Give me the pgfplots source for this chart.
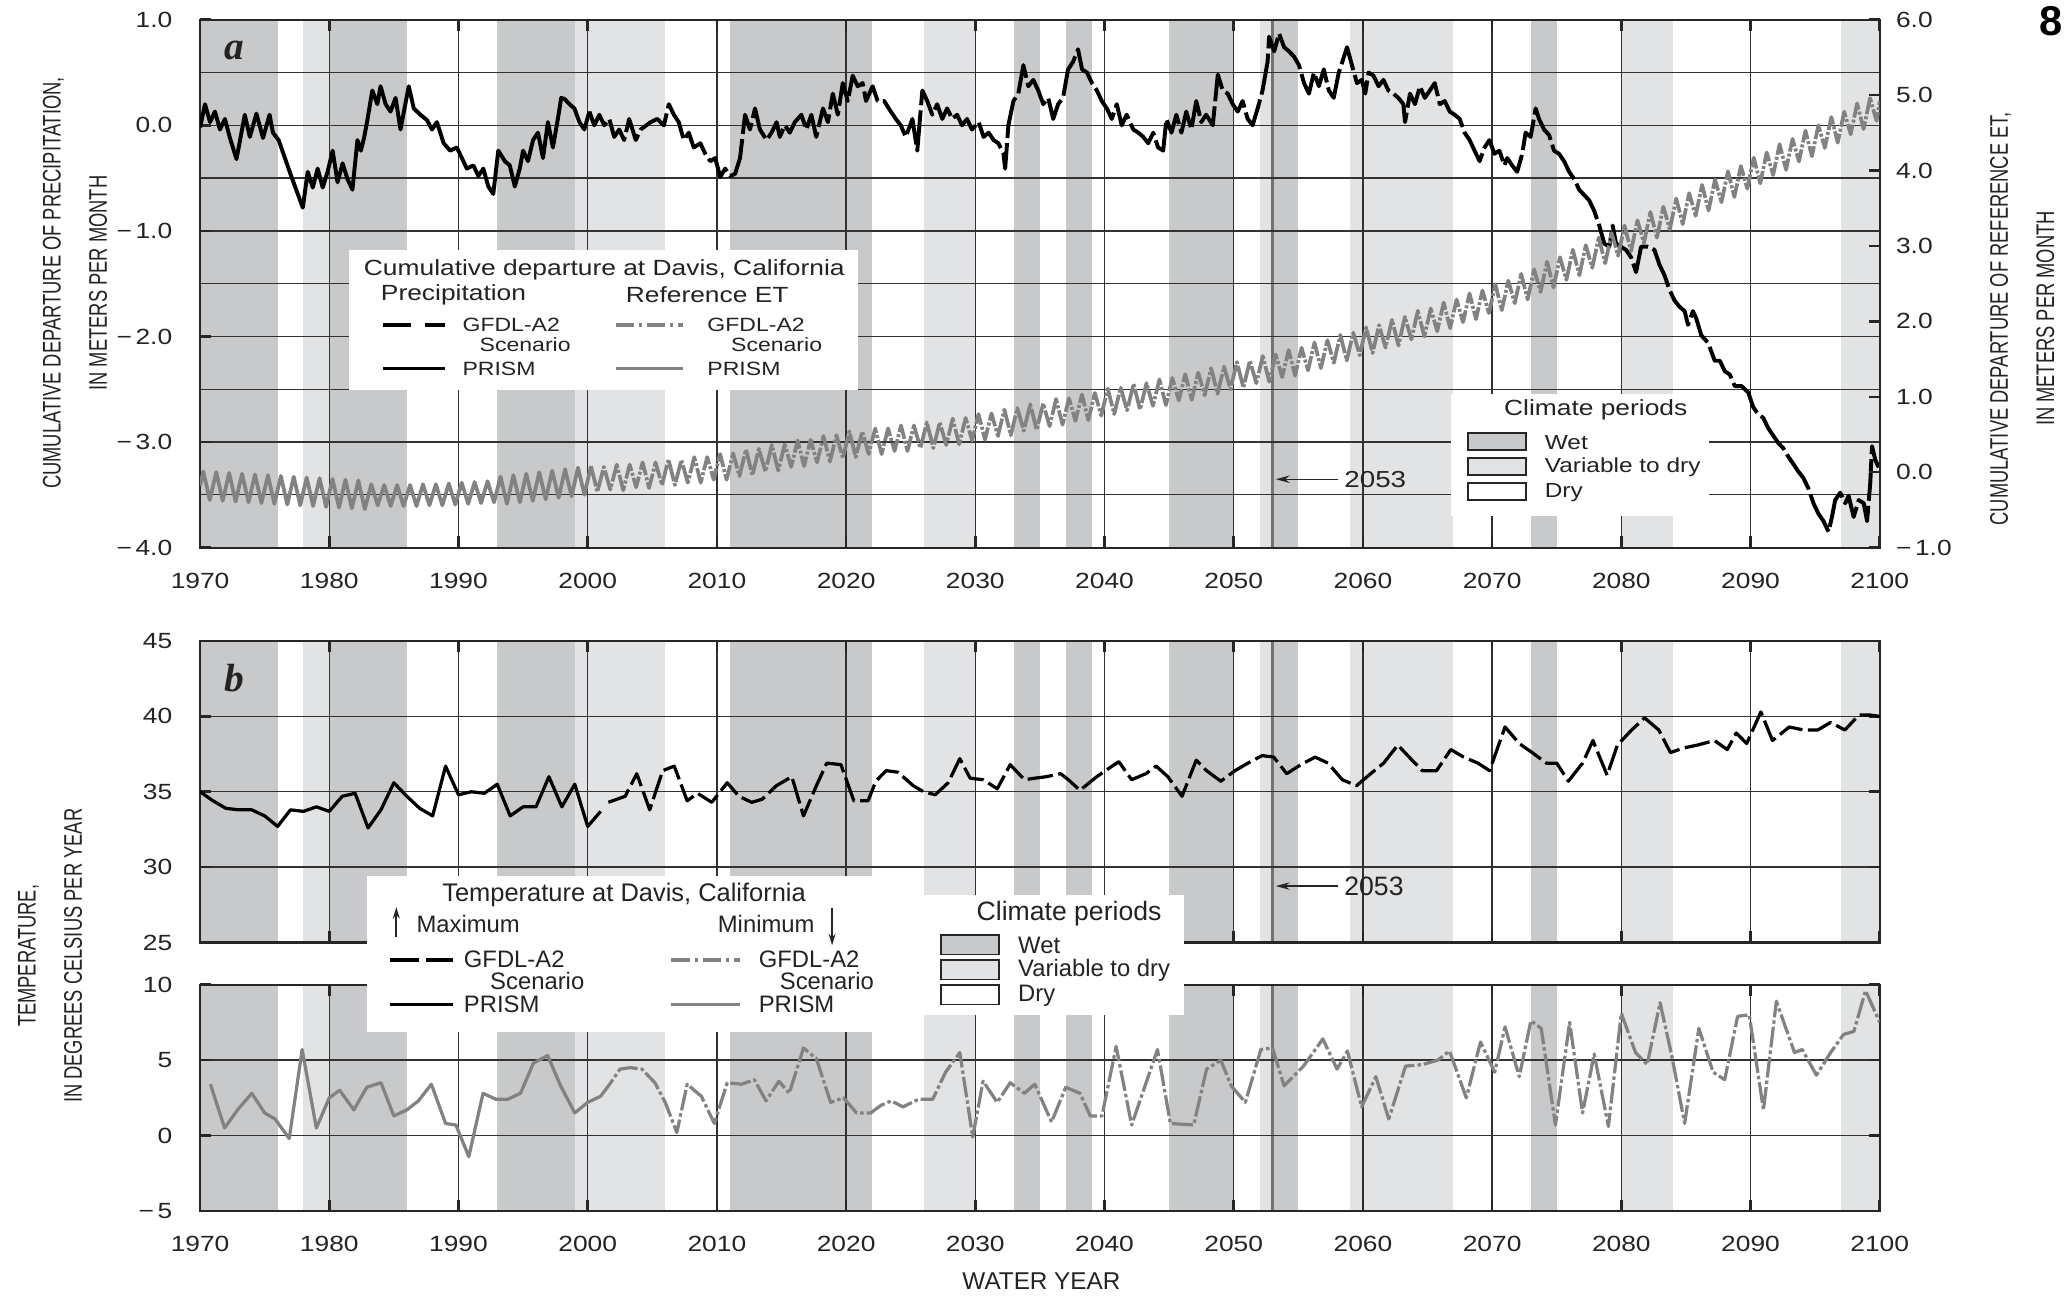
\documentclass[border=0pt]{standalone}
\usepackage{fontspec}
\setmainfont{Liberation Sans}
\newfontfamily\widefont[FakeStretch=1.2]{Liberation Sans}
\newfontfamily\condfont[FakeStretch=0.72]{Liberation Sans}
\newfontfamily\letterfont{Liberation Serif}
\usepackage{pgfplots}
\usepackage{pgfplotstable}
\pgfplotsset{compat=1.18}
\usetikzlibrary{arrows.meta}

\definecolor{wetc}{RGB}{200,201,203}
\definecolor{varc}{RGB}{226,227,229}
\definecolor{etc}{RGB}{130,130,130}
\definecolor{gridc}{RGB}{50,50,50}
\definecolor{txt}{RGB}{35,35,35}

\newcommand{\FA}{\widefont\fontsize{9.5}{11}\selectfont}
\newcommand{\FAe}{\widefont\fontsize{8.3}{10}\selectfont}
\newcommand{\FB}{\fontsize{11}{13}\selectfont}
\newcommand{\FBe}{\fontsize{10.3}{12}\selectfont}

\newcommand{\shadeperiods}[2]{%
\fill[wetc] (axis cs:1970,#1) rectangle (axis cs:1976,#2);
\fill[varc] (axis cs:1978,#1) rectangle (axis cs:1980,#2);
\fill[wetc] (axis cs:1980,#1) rectangle (axis cs:1986,#2);
\fill[wetc] (axis cs:1993,#1) rectangle (axis cs:1999,#2);
\fill[varc] (axis cs:1999,#1) rectangle (axis cs:2006,#2);
\fill[wetc] (axis cs:2011,#1) rectangle (axis cs:2022,#2);
\fill[varc] (axis cs:2026,#1) rectangle (axis cs:2030,#2);
\fill[wetc] (axis cs:2033,#1) rectangle (axis cs:2035,#2);
\fill[wetc] (axis cs:2037,#1) rectangle (axis cs:2039,#2);
\fill[wetc] (axis cs:2045,#1) rectangle (axis cs:2050,#2);
\fill[varc] (axis cs:2052,#1) rectangle (axis cs:2053,#2);
\fill[wetc] (axis cs:2053,#1) rectangle (axis cs:2055,#2);
\fill[varc] (axis cs:2059,#1) rectangle (axis cs:2067,#2);
\fill[wetc] (axis cs:2073,#1) rectangle (axis cs:2075,#2);
\fill[varc] (axis cs:2080,#1) rectangle (axis cs:2084,#2);
\fill[varc] (axis cs:2097,#1) rectangle (axis cs:2100,#2);
\draw[black!55, line width=1.3pt] (axis cs:2053,#1) -- (axis cs:2053,#2);
}

\pgfplotsset{
  shade/.style={
    scale only axis, width=25.52cm, anchor=south west,
    xmin=1970, xmax=2100, hide axis, clip=false,
  },
  base/.style={
    scale only axis, width=25.52cm, anchor=south west,
    xmin=1970, xmax=2100,
    xtick={1970,1980,1990,2000,2010,2020,2030,2040,2050,2060,2070,2080,2090,2100},
    tick align=inside,
    major tick length=0.17cm,
    minor tick length=0pt,
    tick style={black!85, line width=1.1pt},
    axis line style={black!85, line width=0.9pt},
    major grid style={gridc, line width=0.55pt},
    minor grid style={gridc, line width=0.55pt},
    grid=major,
    tick label style={font=\FA, text=txt},
    yticklabel style={xshift=-8.5pt},
    xticklabel style={yshift=-7.5pt},
  }
}

\begin{document}
\begin{tikzpicture}
\path[use as bounding box] (0,0) rectangle (31.36,19.8);

% ---------------- shading (background) axes
\begin{axis}[shade, at={(3.04cm,11.48cm)}, height=8.02cm, ymin=-4, ymax=1]
\shadeperiods{-4}{1}
\end{axis}
\begin{axis}[shade, at={(3.04cm,5.48cm)}, height=4.58cm, ymin=25, ymax=45]
\shadeperiods{25}{45}
\end{axis}
\begin{axis}[shade, at={(3.04cm,1.40cm)}, height=3.44cm, ymin=-5, ymax=10]
\shadeperiods{-5}{10}
\end{axis}

% ---------------- Panel a, precipitation (left axis)
\begin{axis}[base, at={(3.04cm,11.48cm)}, height=8.02cm,
  ymin=-4, ymax=1, ytick={-4,-3,-2,-1,0,1},
  yticklabels={−\,4.0,−\,3.0,−\,2.0,−\,1.0,0.0,1.0},
  minor ytick={-3.5,-2.5,-1.5,-0.5,0.5}, grid=both, ytick pos=left,
  xticklabels={1970,1980,1990,2000,2010,2020,2030,2040,2050,2060,2070,2080,2090,2100}]
\addplot[black, line width=1.7pt, line join=round] coordinates {
(1970.0,-0.02)(1970.38,0.20)(1970.77,0.03)(1971.15,0.13)(1971.54,-0.04)(1971.92,0.06)(1972.31,-0.12)(1972.82,-0.32)
(1973.46,0.10)(1973.85,-0.11)(1974.36,0.11)(1974.87,-0.12)(1975.38,0.10)(1975.64,-0.07)(1976.08,-0.14)(1977.05,-0.48)
(1977.95,-0.78)(1978.33,-0.44)(1978.72,-0.59)(1979.1,-0.41)(1979.49,-0.59)(1979.87,-0.44)(1980.26,-0.24)(1980.64,-0.54)
(1981.03,-0.36)(1981.41,-0.51)(1981.79,-0.61)(1982.18,-0.14)(1982.44,-0.24)(1982.69,-0.12)(1982.95,0.05)(1983.33,0.33)
(1983.72,0.20)(1983.97,0.37)(1984.36,0.20)(1984.74,0.13)(1985.13,0.26)(1985.51,-0.04)(1986.15,0.37)(1986.54,0.16)
(1987.05,0.10)(1987.56,0.05)(1987.95,-0.04)(1988.33,0.03)(1988.85,-0.17)(1989.36,-0.24)(1989.87,-0.21)(1990.26,-0.31)
(1990.64,-0.41)(1991.15,-0.38)(1991.54,-0.48)(1991.92,-0.41)(1992.31,-0.58)(1992.69,-0.65)(1993.08,-0.24)(1993.59,-0.34)
(1993.97,-0.38)(1994.36,-0.58)(1994.74,-0.41)(1995.0,-0.24)(1995.38,-0.34)(1995.77,-0.14)(1996.15,-0.07)(1996.54,-0.31)
(1996.92,0.03)(1997.31,-0.21)(1997.69,0.06)(1997.95,0.26)(1998.21,0.25)(1998.59,0.20)(1998.97,0.16)(1999.36,0.03)
(1999.74,-0.04)(2000.13,0.13)};
\addplot[black, line width=1.7pt, line join=round, dash pattern=on 18pt off 2.2pt] coordinates {
(2000.13,0.13)(2000.51,0.00)(2000.9,0.10)(2001.28,0.00)(2001.67,0.06)(2002.05,-0.11)(2002.44,-0.04)(2002.82,-0.14)
(2003.21,0.06)(2003.72,-0.14)(2004.1,-0.04)(2004.87,0.03)(2005.38,0.06)(2005.9,0.00)(2006.28,0.20)(2006.67,0.10)
(2007.05,0.03)(2007.44,-0.14)(2007.82,-0.07)(2008.21,-0.21)(2008.72,-0.17)(2009.1,-0.27)(2009.49,-0.34)(2009.87,-0.31)
(2010.26,-0.49)(2010.64,-0.41)(2011.03,-0.48)(2011.41,-0.46)(2011.79,-0.31)(2012.18,0.10)(2012.56,-0.04)(2012.95,0.16)
(2013.33,-0.04)(2013.85,-0.14)(2014.23,-0.07)(2014.62,0.03)(2014.87,-0.11)(2015.26,0.00)(2015.64,-0.07)(2016.03,0.03)
(2016.54,0.10)(2016.92,-0.04)(2017.31,0.10)(2017.69,-0.11)(2018.21,0.16)(2018.59,0.03)(2018.97,0.30)(2019.36,0.10)
(2019.74,0.40)(2020.13,0.23)(2020.51,0.47)(2020.9,0.37)(2021.28,0.40)(2021.54,0.23)(2022.05,0.37)(2022.44,0.23)
(2022.95,0.23)(2023.46,0.13)(2023.85,0.06)(2024.23,0.00)(2024.62,-0.11)(2025.13,0.06)(2025.51,-0.24)(2025.9,0.33)
(2026.28,0.23)(2026.67,0.10)(2027.05,0.20)(2027.44,0.06)(2027.82,0.16)(2028.21,0.06)(2028.59,0.10)(2028.97,0.00)
(2029.36,0.06)(2029.74,-0.04)(2030.26,0.03)(2030.64,-0.11)(2031.03,-0.07)(2031.41,-0.14)(2031.79,-0.17)(2032.18,-0.27)
(2032.31,-0.41)(2032.56,0.00)(2032.95,0.23)(2033.33,0.30)(2033.72,0.57)(2034.1,0.37)(2034.49,0.43)(2034.87,0.33)
(2035.26,0.20)(2035.64,0.26)(2036.03,0.06)(2036.41,0.20)(2036.79,0.26)(2037.18,0.53)(2037.56,0.60)(2037.95,0.72)
(2038.26,0.53)(2038.64,0.50)(2039.03,0.40)(2039.41,0.33)(2039.79,0.23)(2040.18,0.16)(2040.56,0.06)(2040.95,0.20)
(2041.33,0.00)(2041.72,0.10)(2042.23,-0.04)(2042.62,-0.07)(2043.0,-0.11)(2043.38,-0.17)(2043.77,-0.07)(2044.15,-0.21)
(2044.54,-0.24)(2044.79,0.06)(2045.18,-0.07)(2045.56,0.10)(2045.95,-0.07)(2046.33,0.13)(2046.72,-0.04)(2047.1,0.23)
(2047.49,0.03)(2047.87,0.10)(2048.38,0.00)(2048.77,0.48)(2049.15,0.33)(2049.54,0.30)(2049.92,0.20)(2050.31,0.13)
(2050.69,0.23)(2051.08,0.06)(2051.46,0.00)(2051.85,0.16)(2052.23,0.33)(2052.62,0.60)(2052.74,0.84)(2053.13,0.70)
(2053.51,0.87)(2053.9,0.74)(2054.28,0.70)(2054.67,0.65)(2055.05,0.57)(2055.44,0.40)(2055.82,0.30)(2056.21,0.50)
(2056.59,0.37)(2056.97,0.53)(2057.36,0.33)(2057.74,0.26)(2058.13,0.50)(2058.51,0.64)(2058.77,0.74)(2059.15,0.57)
(2059.54,0.40)(2059.92,0.43)(2060.18,0.30)(2060.44,0.50)(2060.82,0.47)(2061.21,0.37)(2061.59,0.43)(2061.97,0.33)
(2062.36,0.30)(2062.74,0.26)(2063.13,0.20)(2063.26,0.03)(2063.64,0.30)(2064.03,0.20)(2064.41,0.37)(2064.79,0.26)
(2065.18,0.33)(2065.56,0.40)(2065.95,0.20)(2066.33,0.23)(2066.72,0.13)(2067.1,0.10)(2067.49,0.06)(2067.87,-0.07)
(2068.26,-0.14)(2068.64,-0.24)(2069.03,-0.34)(2069.41,-0.21)(2069.79,-0.14)(2070.18,-0.27)(2070.56,-0.24)(2070.95,-0.38)
(2071.17,-0.31)(2071.55,-0.38)(2071.94,-0.44)(2072.33,-0.27)(2072.59,-0.07)(2072.98,-0.11)(2073.37,0.16)(2073.63,0.06)
(2074.02,-0.04)(2074.4,-0.09)(2074.79,-0.24)(2075.18,-0.27)(2075.57,-0.34)(2075.96,-0.44)(2076.35,-0.51)(2076.74,-0.61)
(2077.12,-0.66)(2077.51,-0.71)(2077.9,-0.81)(2078.29,-0.95)(2078.68,-1.12)(2079.07,-1.15)(2079.33,-0.95)(2079.59,-1.12)
(2079.97,-1.15)(2080.36,-1.18)(2080.75,-1.25)(2081.14,-1.39)(2081.53,-1.15)(2082.05,-1.15)(2082.56,-1.18)(2082.95,-1.32)
(2083.34,-1.42)(2083.73,-1.56)(2084.12,-1.66)(2084.51,-1.72)(2084.9,-1.76)(2085.16,-1.89)(2085.54,-1.76)(2085.8,-1.83)
(2086.19,-1.99)(2086.71,-2.06)(2087.23,-2.23)(2087.62,-2.23)(2088.01,-2.33)(2088.39,-2.36)(2088.78,-2.47)(2089.3,-2.47)
(2089.82,-2.53)(2090.21,-2.67)(2090.6,-2.74)(2090.98,-2.77)(2091.37,-2.87)(2091.76,-2.94)(2092.15,-3.01)(2092.54,-3.06)
(2092.93,-3.14)(2093.32,-3.21)(2093.7,-3.28)(2094.09,-3.34)(2094.48,-3.44)(2094.87,-3.58)(2095.26,-3.68)(2095.65,-3.75)
(2096.04,-3.85)(2096.3,-3.71)(2096.55,-3.55)(2096.94,-3.48)(2097.33,-3.58)(2097.59,-3.51)(2097.98,-3.71)(2098.37,-3.55)
(2098.76,-3.58)(2099.02,-3.75)(2099.27,-3.38)(2099.4,-3.04)(2099.66,-3.17)(2099.92,-3.24)};
\end{axis}

% ---------------- Panel a, reference ET (right axis)
\begin{axis}[scale only axis, width=25.52cm, height=8.02cm, at={(3.04cm,11.48cm)}, anchor=south west,
  xmin=1970, xmax=2100, ymin=-1, ymax=6,
  axis x line=none, axis y line*=right,
  ytick={-1,0,1,2,3,4,5,6},
  yticklabels={−\,1.0,0.0,1.0,2.0,3.0,4.0,5.0,6.0},
  tick align=inside, major tick length=0.17cm,
  tick style={black!85, line width=1.1pt},
  axis line style={black!85, line width=0.9pt},
  tick label style={font=\FA, text=txt},
  yticklabel style={xshift=3.5pt}]
\addplot[etc, line width=1.6pt, line join=round] coordinates {
(1970,-0.18)(1970.25,0.01)(1970.75,-0.37)(1971.25,0.00)(1971.75,-0.38)(1972.25,-0.01)(1972.75,-0.39)
(1973.25,-0.02)(1973.75,-0.40)(1974.25,-0.03)(1974.75,-0.41)(1975.25,-0.04)(1975.75,-0.42)
(1976.25,-0.05)(1976.75,-0.43)(1977.25,-0.06)(1977.75,-0.44)(1978.25,-0.07)(1978.75,-0.45)
(1979.25,-0.08)(1979.75,-0.46)(1980.25,-0.09)(1980.75,-0.47)(1981.25,-0.10)(1981.75,-0.48)
(1982.25,-0.11)(1982.75,-0.49)(1983.25,-0.16)(1983.75,-0.44)(1984.25,-0.17)(1984.75,-0.45)
(1985.25,-0.17)(1985.75,-0.45)(1986.25,-0.17)(1986.75,-0.45)(1987.25,-0.16)(1987.75,-0.44)
(1988.25,-0.16)(1988.75,-0.44)(1989.25,-0.15)(1989.75,-0.43)(1990.25,-0.14)(1990.75,-0.42)
(1991.25,-0.13)(1991.75,-0.41)(1992.25,-0.12)(1992.75,-0.40)(1993.25,-0.06)(1993.75,-0.42)
(1994.25,-0.04)(1994.75,-0.40)(1995.25,-0.02)(1995.75,-0.38)(1996.25,0.00)(1996.75,-0.36)
(1997.25,0.02)(1997.75,-0.34)(1998.25,0.04)(1998.75,-0.32)(1999.25,0.06)(1999.75,-0.30)(2000.25,0.08)};
\addplot[etc, line width=1.6pt, line join=round, dash pattern=on 9pt off 0.9pt on 1.3pt off 0.9pt] coordinates {
(2000.25,0.08)(2000.75,-0.26)(2001.25,0.07)(2001.75,-0.23)(2002.25,0.10)(2002.75,-0.24)(2003.25,0.10)(2003.75,-0.20)
(2004.25,0.13)(2004.75,-0.21)(2005.25,0.13)(2005.75,-0.17)(2006.25,0.17)(2006.75,-0.17)(2007.25,0.16)(2007.75,-0.14)
(2008.25,0.20)(2008.75,-0.14)(2009.25,0.20)(2009.75,-0.10)(2010.25,0.24)(2010.75,-0.10)(2011.25,0.25)(2011.75,-0.05)
(2012.25,0.30)(2012.75,-0.04)(2013.25,0.31)(2013.75,0.01)(2014.25,0.36)(2014.75,0.02)(2015.25,0.37)(2015.75,0.07)
(2016.25,0.42)(2016.75,0.08)(2017.25,0.43)(2017.75,0.13)(2018.25,0.48)(2018.75,0.14)(2019.25,0.49)(2019.75,0.19)
(2020.25,0.54)(2020.75,0.20)(2021.25,0.54)(2021.75,0.24)(2022.25,0.58)(2022.75,0.24)(2023.25,0.58)(2023.75,0.28)
(2024.25,0.62)(2024.75,0.28)(2025.25,0.62)(2025.75,0.32)(2026.25,0.66)(2026.75,0.32)(2027.25,0.66)(2027.75,0.36)
(2028.25,0.71)(2028.75,0.37)(2029.25,0.72)(2029.75,0.42)(2030.25,0.77)(2030.75,0.43)(2031.25,0.78)(2031.75,0.48)
(2032.25,0.83)(2032.75,0.49)(2033.25,0.85)(2033.75,0.55)(2034.25,0.90)(2034.75,0.56)(2035.25,0.91)(2035.75,0.61)
(2036.25,0.97)(2036.75,0.63)(2037.25,0.98)(2037.75,0.68)(2038.25,1.03)(2038.75,0.69)(2039.25,1.05)(2039.75,0.75)
(2040.25,1.11)(2040.75,0.77)(2041.25,1.12)(2041.75,0.82)(2042.25,1.17)(2042.75,0.83)(2043.25,1.18)(2043.75,0.88)
(2044.25,1.23)(2044.75,0.89)(2045.25,1.25)(2045.75,0.95)(2046.25,1.30)(2046.75,0.96)(2047.25,1.32)(2047.75,1.02)
(2048.25,1.38)(2048.75,1.04)(2049.25,1.40)(2049.75,1.10)(2050.25,1.46)(2050.75,1.12)(2051.25,1.48)(2051.75,1.18)
(2052.25,1.54)(2052.75,1.20)(2053.25,1.56)(2053.75,1.26)(2054.25,1.62)(2054.75,1.28)(2055.25,1.65)(2055.75,1.35)
(2056.25,1.72)(2056.75,1.38)(2057.25,1.75)(2057.75,1.45)(2058.25,1.82)(2058.75,1.48)(2059.25,1.85)(2059.75,1.55)
(2060.25,1.92)(2060.75,1.58)(2061.25,1.95)(2061.75,1.65)(2062.25,2.02)(2062.75,1.68)(2063.25,2.06)(2063.75,1.76)
(2064.25,2.14)(2064.75,1.80)(2065.25,2.17)(2065.75,1.87)(2066.25,2.25)(2066.75,1.91)(2067.25,2.29)(2067.75,1.99)
(2068.25,2.37)(2068.75,2.03)(2069.25,2.41)(2069.75,2.11)(2070.25,2.49)(2070.75,2.15)(2071.25,2.54)(2071.75,2.24)
(2072.25,2.63)(2072.75,2.29)(2073.25,2.69)(2073.75,2.39)(2074.25,2.79)(2074.75,2.45)(2075.25,2.85)(2075.75,2.55)
(2076.25,2.95)(2076.75,2.61)(2077.25,3.01)(2077.75,2.71)(2078.25,3.11)(2078.75,2.77)(2079.25,3.17)(2079.75,2.87)
(2080.25,3.27)(2080.75,2.93)(2081.25,3.34)(2081.75,3.04)(2082.25,3.45)(2082.75,3.11)(2083.25,3.52)(2083.75,3.22)
(2084.25,3.63)(2084.75,3.29)(2085.25,3.70)(2085.75,3.40)(2086.25,3.81)(2086.75,3.47)(2087.25,3.88)(2087.75,3.58)
(2088.25,3.99)(2088.75,3.65)(2089.25,4.06)(2089.75,3.76)(2090.25,4.17)(2090.75,3.83)(2091.25,4.24)(2091.75,3.94)
(2092.25,4.35)(2092.75,4.01)(2093.25,4.42)(2093.75,4.12)(2094.25,4.53)(2094.75,4.19)(2095.25,4.60)(2095.75,4.30)
(2096.25,4.71)(2096.75,4.37)(2097.25,4.78)(2097.75,4.48)(2098.25,4.89)(2098.75,4.55)(2099.25,4.96)(2099.75,4.66)(2100,4.92)};
\end{axis}

% ---------------- Panel b, maximum temperature
\begin{axis}[base, at={(3.04cm,5.48cm)}, height=4.58cm,
  ymin=25, ymax=45, ytick={25,30,35,40,45}, yticklabels={25,30,35,40,45}, xticklabels={}]
\addplot[black, line width=1.4pt, line join=round] coordinates {
(1970,35.0)(1971,34.4)(1972,33.9)(1973,33.8)(1974,33.8)(1975,33.4)(1976,32.7)(1977,33.8)(1978,33.7)(1979,34.0)
(1980,33.7)(1981,34.7)(1982,34.9)(1983,32.6)(1984,33.8)(1985,35.6)(1986,34.7)(1987,33.9)(1988,33.4)(1989,36.7)
(1990,34.8)(1991,35.0)(1992,34.9)(1993,35.5)(1994,33.4)(1995,34.0)(1996,34.0)(1997,36.0)(1998,34.0)(1999,35.5)
(2000,32.7)(2001,33.7)};
\addplot[black, line width=1.4pt, line join=round, dash pattern=on 11pt off 2.4pt] coordinates {
(2001.6,34.3)(2002.9,34.7)(2003.8,36.2)(2004.8,33.8)(2005.8,36.4)(2006.7,36.7)(2007.7,34.4)(2008.5,34.9)(2009.6,34.3)
(2010.8,35.6)(2011.7,34.7)(2012.7,34.3)(2013.5,34.5)(2014.6,35.4)(2015.8,36.0)(2016.7,33.4)(2017.7,35.4)(2018.5,36.9)
(2019.6,36.8)(2020.6,34.4)(2021.7,34.4)(2022.3,35.7)(2023.1,36.4)(2024.0,36.3)(2025.2,35.4)(2026.0,35.0)(2026.9,34.8)
(2027.9,35.6)(2028.8,37.2)(2029.6,35.9)(2030.6,35.8)(2031.7,35.2)(2032.7,36.8)(2033.8,35.8)(2034.6,35.9)(2035.5,36.0)
(2036.6,36.2)(2037.2,35.8)(2038.1,35.1)(2039.4,36.0)(2041.1,37.0)(2042.1,35.8)(2043.2,36.2)(2044.0,36.7)(2044.9,36.0)
(2046.0,34.7)(2047.1,37.1)(2047.9,36.4)(2049.0,35.7)(2050.1,36.4)(2051.1,36.9)(2052.2,37.4)(2053.1,37.3)(2054.1,36.2)
(2055.2,36.8)(2056.3,37.3)(2057.3,36.9)(2058.4,35.8)(2059.5,35.4)(2060.6,36.2)(2061.6,36.9)(2062.7,38.1)(2063.8,37.1)
(2064.6,36.4)(2065.7,36.4)(2066.8,37.8)(2067.8,37.3)(2068.9,36.9)(2069.8,36.4)(2071.0,39.3)(2072.1,38.2)(2073.1,37.6)
(2074.2,36.9)(2075.0,36.9)(2075.9,35.7)(2077.0,36.9)(2077.8,38.4)(2078.9,36.1)(2079.7,38.1)(2080.8,39.1)(2081.8,39.9)
(2082.9,39.1)(2083.8,37.6)(2084.8,37.9)(2085.9,38.1)(2087.2,38.4)(2088.2,37.8)(2088.9,38.9)(2089.7,38.2)(2090.8,40.3)
(2091.7,38.4)(2093.0,39.3)(2094.1,39.1)(2095.2,39.1)(2096.2,39.6)(2097.3,39.1)(2098.4,40.1)(2099.2,40.1)(2100.0,40.0)};
\end{axis}

% ---------------- Panel b, minimum temperature
\begin{axis}[base, at={(3.04cm,1.40cm)}, height=3.44cm,
  ymin=-5, ymax=10, ytick={-5,0,5,10}, yticklabels={−\,5,0,5,10},
  xticklabels={1970,1980,1990,2000,2010,2020,2030,2040,2050,2060,2070,2080,2090,2100}]
\addplot[etc, line width=1.4pt, line join=round] coordinates {
(1970.8,3.4)(1971.9,0.5)(1972.9,1.7)(1974.0,2.8)(1975.0,1.5)(1975.8,1.1)(1976.9,-0.2)(1977.9,5.7)(1979.0,0.5)
(1980.0,2.5)(1980.8,3.0)(1981.9,1.7)(1982.9,3.2)(1984.0,3.5)(1985.0,1.3)(1986.0,1.7)(1986.9,2.3)(1987.9,3.4)
(1989.0,0.8)(1989.8,0.7)(1990.8,-1.4)(1991.9,2.8)(1992.9,2.4)(1993.8,2.4)(1994.8,2.8)(1995.8,4.8)(1996.9,5.3)
(1997.9,3.3)(1999.0,1.5)(2000.0,2.2)(2001.0,2.6)};
\addplot[etc, line width=1.4pt, line join=round, dash pattern=on 9pt off 1.3pt on 1.5pt off 1.3pt] coordinates {
(2001.0,2.6)(2001.7,3.4)(2002.5,4.4)(2003.3,4.5)(2004.2,4.4)(2005.2,3.5)(2006.0,2.2)(2006.9,0.2)(2007.7,3.4)(2008.8,2.6)
(2009.8,0.8)(2010.8,3.5)(2011.9,3.4)(2012.9,3.7)(2013.8,2.3)(2014.8,3.6)(2015.6,2.8)(2016.7,5.8)(2017.7,5.1)(2018.8,2.2)
(2019.8,2.5)(2020.8,1.5)(2021.9,1.5)(2022.7,2.0)(2023.5,2.3)(2024.4,1.9)(2025.6,2.4)(2026.7,2.4)(2027.7,4.2)(2028.8,5.5)
(2029.8,-0.1)(2030.6,3.6)(2031.7,2.2)(2032.7,3.5)(2033.8,2.8)(2034.6,3.4)(2035.9,0.9)(2037.0,3.2)(2038.1,2.8)(2038.9,1.3)
(2039.8,1.3)(2040.9,5.9)(2042.1,0.7)(2044.1,5.7)(2045.1,0.8)(2046.9,0.7)(2047.9,4.4)(2049.0,5.0)(2049.8,3.3)(2050.9,2.2)
(2052.1,5.7)(2053.0,5.8)(2053.9,3.3)(2055.4,4.6)(2056.9,6.4)(2058.0,4.4)(2058.8,5.6)(2059.9,1.9)(2061.0,3.9)(2062.0,1.1)
(2063.3,4.6)(2064.6,4.7)(2065.8,5.0)(2066.7,5.6)(2068.0,2.5)(2069.1,6.2)(2070.2,4.2)(2071.0,7.2)(2072.1,3.9)(2073.0,7.6)
(2073.8,7.1)(2074.9,0.7)(2076.0,7.5)(2077.0,1.5)(2077.9,5.4)(2079.0,0.6)(2080.0,8.1)(2081.1,5.5)(2082.0,4.7)(2083.0,8.8)
(2083.9,5.3)(2084.9,0.8)(2086.0,7.1)(2087.1,4.2)(2088.0,3.7)(2089.0,7.9)(2089.9,8.0)(2091.0,1.7)(2092.0,8.9)(2093.4,5.5)
(2094.0,5.7)(2095.1,4.0)(2096.2,5.5)(2097.2,6.7)(2098.0,6.9)(2098.9,9.6)(2100.0,7.5)};
\end{axis}

% ---------------- annotations and legends (coordinates in reference pixels)
\begin{scope}[x=0.02cm, y=-0.02cm, yshift=19.8cm, text=txt]
\node[anchor=base west, inner sep=0, font=\letterfont\bfseries\itshape\fontsize{17}{17}\selectfont] at (170,45) {a};
\node[anchor=base west, inner sep=0, font=\letterfont\bfseries\itshape\fontsize{17}{17}\selectfont] at (170,525) {b};
\node[anchor=base west, inner sep=0, font=\bfseries\fontsize{18}{18}\selectfont, text=black] at (1549,27) {8};
\draw[-{Stealth[length=6pt,width=3.2pt]}, line width=0.6pt, black!85] (1016,364) -- (969,364);
\node[anchor=west, inner sep=1pt, font=\widefont\fontsize{10}{12}\selectfont] at (1019,364) {2053};
\draw[-{Stealth[length=6pt,width=3.2pt]}, line width=0.6pt, black!85] (1016,673) -- (969,673);
\node[anchor=west, inner sep=1pt, font=\fontsize{11.5}{13}\selectfont] at (1019,673) {2053};

% legend panel a
\fill[white] (265,190) rectangle (652,296);
\node[font=\FA] at (459,205) {Cumulative departure at Davis, California};
\node[anchor=west, inner sep=0, font=\FA] at (289,224) {Precipitation};
\node[anchor=west, inner sep=0, font=\FA] at (475,224) {Reference ET};
\draw[black, line width=1.6pt, dash pattern=on 12pt off 6pt] (291,247) -- (338,247);
\node[anchor=west, inner sep=0, font=\FAe] at (351,247) {GFDL-A2};
\node[anchor=west, inner sep=0, font=\FAe] at (364,262) {Scenario};
\draw[black, line width=1.6pt] (291,280) -- (338,280);
\node[anchor=west, inner sep=0, font=\FAe] at (351,280) {PRISM};
\draw[etc, line width=1.5pt, dash pattern=on 7.5pt off 2.2pt on 1.5pt off 2.2pt] (468,247) -- (519,247);
\node[anchor=west, inner sep=0, font=\FAe] at (537,247) {GFDL-A2};
\node[anchor=west, inner sep=0, font=\FAe] at (555,262) {Scenario};
\draw[etc, line width=1.5pt] (468,280) -- (519,280);
\node[anchor=west, inner sep=0, font=\FAe] at (537,280) {PRISM};

% climate periods panel a
\fill[white] (1102,299) rectangle (1298,392);
\node[font=\FA] at (1212,311) {Climate periods};
\filldraw[fill=wetc, draw=black!85, line width=0.8pt] (1115,329) rectangle (1159,342);
\filldraw[fill=varc, draw=black!85, line width=0.8pt] (1115,348) rectangle (1159,361);
\filldraw[fill=white, draw=black!85, line width=0.8pt] (1115,367) rectangle (1159,380);
\node[anchor=west, inner sep=0, font=\widefont\fontsize{8.8}{10}\selectfont] at (1173,336) {Wet};
\node[anchor=west, inner sep=0, font=\widefont\fontsize{8.8}{10}\selectfont] at (1173,355) {Variable to dry};
\node[anchor=west, inner sep=0, font=\widefont\fontsize{8.8}{10}\selectfont] at (1173,374) {Dry};

% legend panel b
\fill[white] (279,665) rectangle (701,784);
\fill[white] (700,680) rectangle (899,771);
\node[font=\FB] at (474,680) {Temperature at Davis, California};
\draw[-{Stealth[length=5pt,width=3pt]}, line width=0.7pt, black!85] (301,712) -- (301,689);
\node[anchor=west, inner sep=0, font=\FBe] at (316,702) {Maximum};
\node[anchor=east, inner sep=0, font=\FBe] at (619,702) {Minimum};
\draw[-{Stealth[length=5pt,width=3pt]}, line width=0.7pt, black!85] (632,690) -- (632,718);
\draw[black, line width=1.6pt, dash pattern=on 12.5pt off 3.4pt] (296,729) -- (344,729);
\node[anchor=west, inner sep=0, font=\FBe] at (352,729) {GFDL-A2};
\node[anchor=west, inner sep=0, font=\FBe] at (372,745) {Scenario};
\draw[black, line width=1.6pt] (296,763) -- (344,763);
\node[anchor=west, inner sep=0, font=\FBe] at (352,763) {PRISM};
\draw[etc, line width=1.5pt, dash pattern=on 8pt off 2pt on 1.5pt off 2pt] (510,729) -- (562,729);
\node[anchor=west, inner sep=0, font=\FBe] at (576,729) {GFDL-A2};
\node[anchor=west, inner sep=0, font=\FBe] at (592,745) {Scenario};
\draw[etc, line width=1.5pt] (510,763) -- (562,763);
\node[anchor=west, inner sep=0, font=\FBe] at (576,763) {PRISM};

% climate periods panel b
\node[font=\fontsize{11.5}{13}\selectfont] at (812,694) {Climate periods};
\filldraw[fill=wetc, draw=black!85, line width=0.8pt] (715,710) rectangle (759,725);
\filldraw[fill=varc, draw=black!85, line width=0.8pt] (715,729) rectangle (759,744);
\filldraw[fill=white, draw=black!85, line width=0.8pt] (715,748) rectangle (759,763);
\node[anchor=west, inner sep=0, font=\FBe] at (773,718) {Wet};
\node[anchor=west, inner sep=0, font=\FBe] at (773,737) {Variable to dry};
\node[anchor=west, inner sep=0, font=\FBe] at (773,756) {Dry};

% axis titles
\node[rotate=90, align=center, font=\condfont\fontsize{11}{20}\selectfont] at (57,215)
  {CUMULATIVE DEPARTURE OF PRECIPITATION,\\IN METERS PER MONTH};
\node[rotate=90, align=center, font=\condfont\fontsize{11}{20}\selectfont] at (1536,242)
  {CUMULATIVE DEPARTURE OF REFERENCE ET,\\IN METERS PER MONTH};
\node[rotate=90, align=center, font=\condfont\fontsize{11}{20}\selectfont] at (38,726)
  {TEMPERATURE,\\IN DEGREES CELSIUS PER YEAR};
\node[font=\fontsize{10.5}{12}\selectfont] at (791,973) {WATER YEAR};
\end{scope}
\end{tikzpicture}
\end{document}
